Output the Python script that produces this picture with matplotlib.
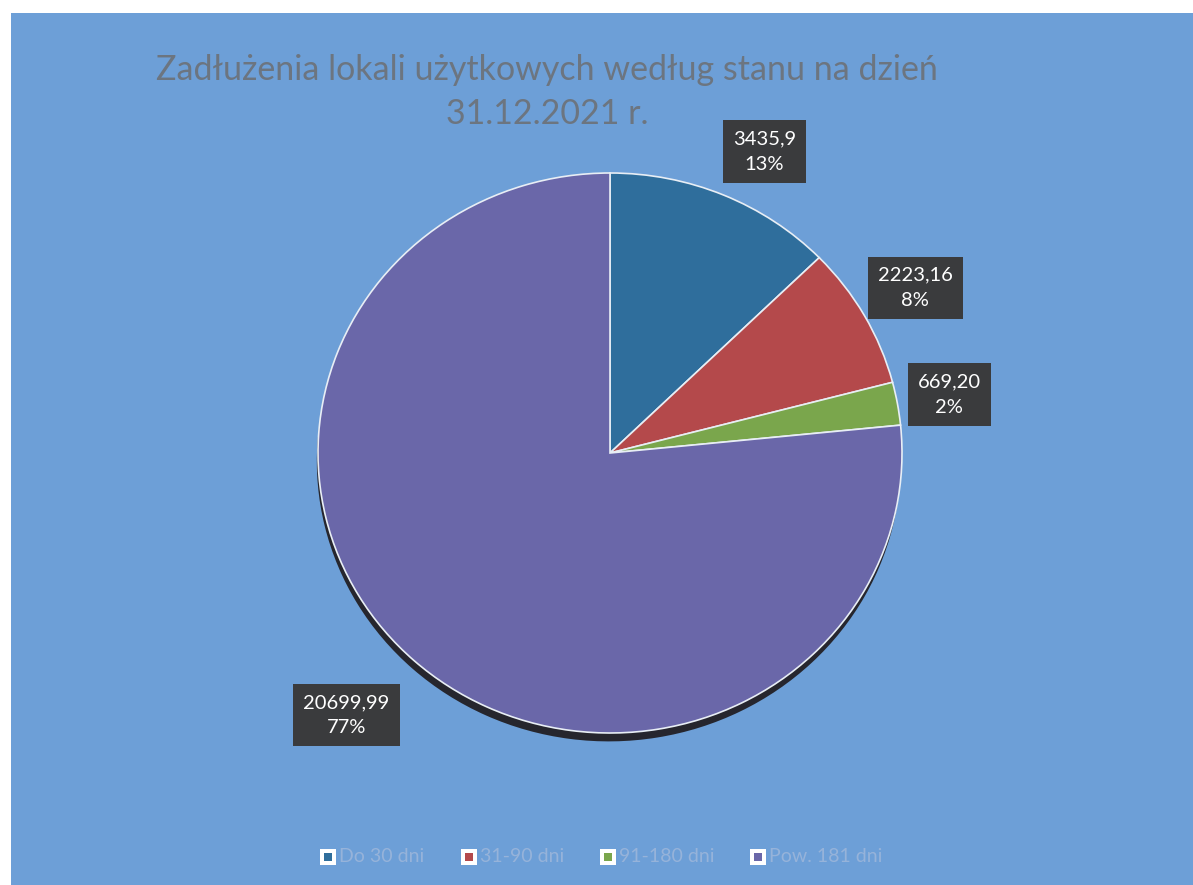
import matplotlib
matplotlib.use("Agg")
import matplotlib.pyplot as plt
from matplotlib.patches import Rectangle
import numpy as np

title = "Zadłużenia lokali użytkowych według stanu na dzień\n31.12.2021 r."
categories = ["Do 30 dni", "31-90 dni", "91-180 dni", "Pow. 181 dni"]
values = [3435.9, 2223.16, 669.20, 20699.99]
value_labels = ["3435,9", "2223,16", "669,20", "20699,99"]
colors = ["#2f6e9c", "#b4494b", "#7aa64c", "#6a67a9"]

W, H = 1193, 885
fig = plt.figure(figsize=(W / 100, H / 100), dpi=100)
fig.patch.set_facecolor("white")
bg = "#6d9fd7"
fig.add_artist(Rectangle((11 / W, 0), 1 - 11 / W, 1 - 13 / H, transform=fig.transFigure,
                         facecolor=bg, edgecolor="none", zorder=0))

# pie axes: centre (610, 453), rx 292, ry 280
cx, cy, rx, ry = 610, 453, 292, 280
ax = fig.add_axes([(cx - rx) / W, 1 - (cy + ry) / H, 2 * rx / W, 2 * ry / H])
ax.axis("off")
ax.patch.set_alpha(0)

# shadow
sh = ax.pie(values, startangle=90, counterclock=False, colors=["#26262e"] * 4,
            radius=1.0, center=(-0.004, -0.03), wedgeprops=dict(linewidth=0))
for w in sh[0]:
    w.set_zorder(1)
wedges, _ = ax.pie(values, startangle=90, counterclock=False, colors=colors,
                   radius=1.0, wedgeprops=dict(edgecolor="#e8eef5", linewidth=1.2))
for w in wedges:
    w.set_zorder(2)
ax.set_xlim(-1, 1)
ax.set_ylim(-1, 1)
ax.set_aspect("auto")

total = sum(values)
placement = [(1.2, -3.3), (1.2, 0.0), (1.18, 0.0), (1.30, -1.8)]
for w, v, lab, (d, shift) in zip(wedges, values, value_labels, placement):
    ang = np.deg2rad((w.theta1 + w.theta2) / 2 + shift)
    x, y = d * np.cos(ang), d * np.sin(ang)
    pct = f"{v / total * 100:.0f}%"
    ax.text(x, y, f"{lab}\n{pct}", ha="center", va="center", color="white",
            fontsize=14.5, family="Lato", linespacing=1.6, zorder=5, clip_on=False,
            bbox=dict(boxstyle="square,pad=0.5", facecolor="#3a3b3d", edgecolor="none"))

fig.text(547 / W, 1 - 92 / H, title, ha="center", va="center", color="#6c7580",
         fontsize=24.5, family="Lato", linespacing=1.5)

# legend
lx = [328, 469, 608, 758]
ly = 857
for x, c, name in zip(lx, colors, categories):
    fig.add_artist(Rectangle(((x - 8) / W, 1 - (ly + 8) / H), 16 / W, 16 / H,
                             transform=fig.transFigure, facecolor="white", edgecolor="none", zorder=3))
    fig.add_artist(Rectangle(((x - 4) / W, 1 - (ly + 4) / H), 8 / W, 8 / H,
                             transform=fig.transFigure, facecolor=c, edgecolor="none", zorder=4))
    fig.text((x + 11) / W, 1 - ly / H, name, ha="left", va="center", color="#96b3da",
             fontsize=14, family="Lato")

fig.savefig("out.png", dpi=100, facecolor="white")
